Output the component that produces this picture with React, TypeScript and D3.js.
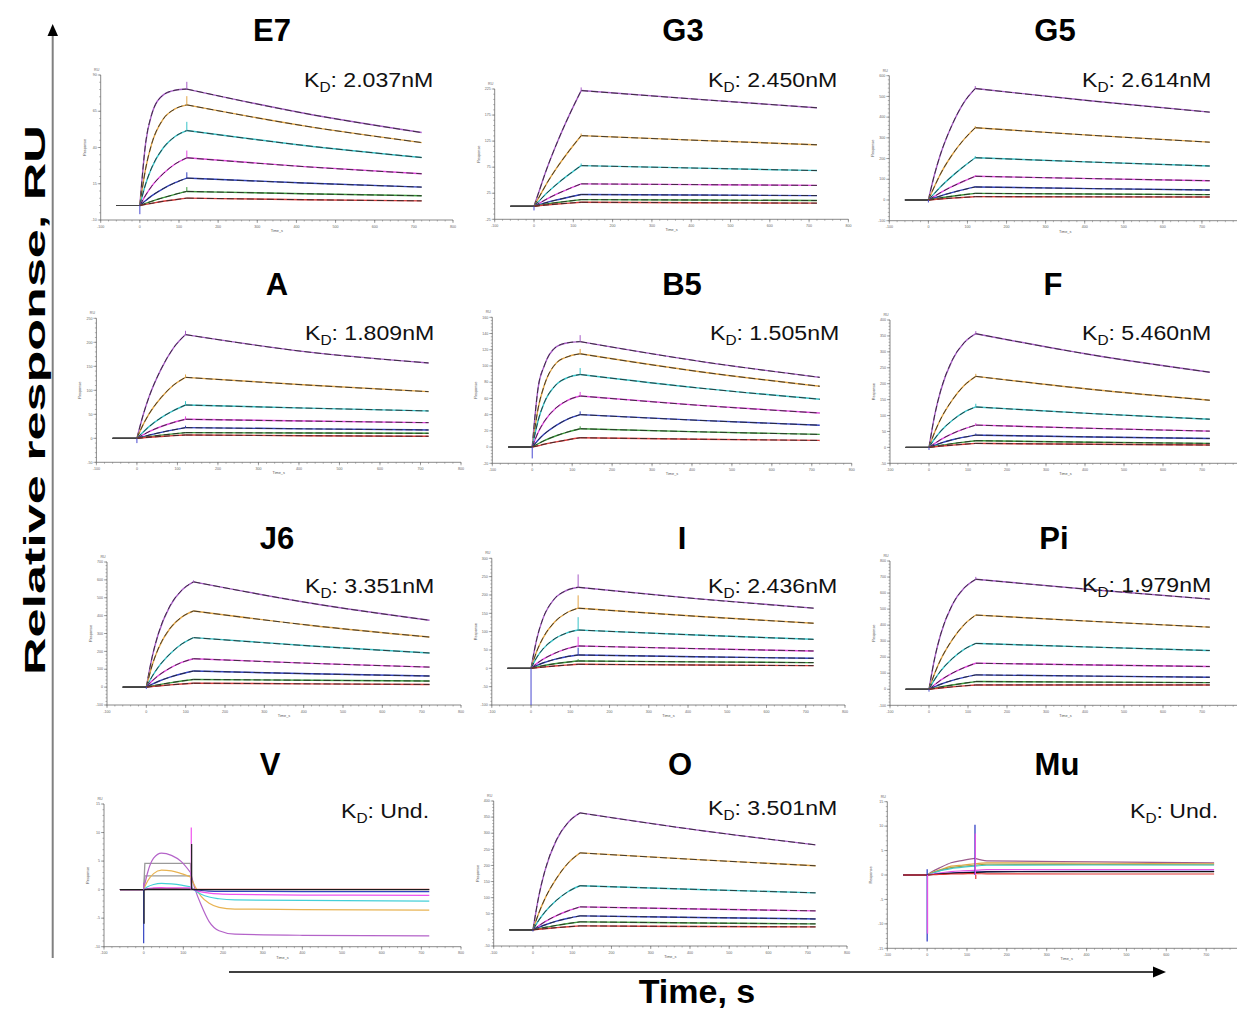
import React from "react";
import * as d3 from "d3";

// ---------- shared data ----------
const TIME = [-60, 0, 15, 30, 60, 90, 120, 420, 720];
const X_TICKS = [-100, 0, 100, 200, 300, 400, 500, 600, 700, 800];
const CURVE_COLORS = ["#a75cc6", "#e2a546", "#37c2c8", "#e247df", "#3140bf", "#3b9b3b", "#d93b3b"];

// ---------- E7 ----------
const E7_CURVES = [
  [0, 0, 43.4, 62.6, 76.3, 79.5, 80.3, 63.6, 50.3],
  [0, 0, 25.7, 42.3, 59.7, 66.6, 69.4, 54.9, 43.4],
  [0, 0, 15.0, 25.9, 39.8, 47.6, 51.7, 41.4, 33.1],
  [0, 0, 7.2, 13.2, 22.0, 28.6, 32.9, 26.8, 21.9],
  [0, 0, 3.4, 6.6, 11.7, 15.7, 18.9, 15.5, 12.7],
  [0, 0, 1.5, 2.9, 5.4, 7.7, 9.7, 8.1, 6.7],
  [0, 0, 0.8, 1.5, 2.9, 4.0, 5.1, 4.0, 3.2],
];
const E7_Y_TICKS = [-10, 15, 40, 65, 90];
const E7_SPIKES = [5, 6, 6, 5, 4, 3, 0];

// ---------- G3 ----------
const G3_CURVES = [
  [0, 0, 33.3, 66.6, 124.3, 175.4, 222, 205, 189],
  [0, 0, 20.3, 40.7, 75.9, 107, 135.5, 126.4, 118],
  [0, 0, 11.7, 23.4, 43.7, 61.6, 78, 73.1, 68.5],
  [0, 0, 6.5, 12.9, 24.1, 34, 43, 41.5, 40],
  [0, 0, 3.4, 6.8, 12.6, 17.8, 22.5, 21.5, 20.5],
  [0, 0, 1.9, 3.8, 7.2, 10.1, 12.8, 11.9, 11],
  [0, 0, 1.2, 2.3, 4.3, 6.1, 7.7, 6.8, 6],
];
const G3_Y_TICKS = [-25, 25, 75, 125, 175, 225];
const G3_SPIKES = [6, 4, 4, 0, 0, 0, 0];

// ---------- G5 ----------
const G5_CURVES = [
  [0, 0, 118, 215, 360, 468, 538, 477.6, 424],
  [0, 0, 62.8, 122, 216, 290, 349, 312, 279],
  [0, 0, 30.6, 61.2, 114, 161, 204, 183, 164],
  [0, 0, 17.2, 34.4, 64.1, 90.5, 114.5, 103.2, 93],
  [0, 0, 9.5, 18.9, 35.3, 49.8, 63, 55, 48],
  [0, 0, 4.8, 9.6, 17.9, 25.3, 32, 28.8, 26],
  [0, 0, 2.4, 4.8, 9, 12.6, 16, 15.2, 14.5],
];
const G5_Y_TICKS = [-100, 0, 100, 200, 300, 400, 500, 600];
const G5_SPIKES = [12, 8, 8, 6, 4, 0, 0];

// ---------- A ----------
const A_CURVES = [
  [0, 0, 47.5, 86.4, 144.7, 187.9, 216, 180, 157],
  [0, 0, 27.9, 50.8, 85.1, 110.5, 127, 111, 97.2],
  [0, 0, 12.5, 24.3, 43, 57.6, 69.4, 62.9, 57],
  [0, 0, 7.1, 13.9, 24.6, 32.9, 39.6, 35.9, 32.6],
  [0, 0, 3.3, 6.7, 12.4, 17.5, 22.2, 19.7, 17.4],
  [0, 0, 1.8, 3.5, 6.6, 9.3, 11.8, 11.1, 10.4],
  [0, 0, 1.0, 2.1, 3.9, 5.5, 6.9, 5.4, 4.2],
];
const A_Y_TICKS = [-50, 0, 50, 100, 150, 200, 250];
const A_SPIKES = [8, 6, 8, 6, 4, 0, 0];

// ---------- B5 ----------
const B5_CURVES = [
  [0, 0, 74, 100, 123.5, 128.7, 130, 105.7, 86],
  [0, 0, 48.3, 75.9, 103.5, 111.6, 115, 92.9, 75],
  [0, 0, 33.1, 54.6, 77, 85.9, 89.5, 72.7, 59],
  [0, 0, 18.3, 31.5, 48.5, 58, 63, 51.4, 42],
  [0, 0, 8.8, 16, 26.8, 34.8, 40, 32.9, 27],
  [0, 0, 4.1, 7.9, 14, 18.8, 22.6, 18.8, 15.6],
  [0, 0, 1.7, 3.5, 6.4, 9.1, 11.5, 9.7, 8.2],
];
const B5_Y_TICKS = [-20, 0, 20, 40, 60, 80, 100, 120, 140, 160];
const B5_SPIKES = [8, 6, 8, 5, 4, 3, 0];

// ---------- F ----------
const F_CURVES = [
  [0, 0, 103.5, 178.5, 274.9, 328.4, 357, 290, 236],
  [0, 0, 49.1, 89.2, 149.4, 194, 223, 181.7, 148],
  [0, 0, 27.9, 50.8, 85.1, 110.5, 127, 106, 88.5],
  [0, 0, 12.6, 24.5, 43.4, 58.1, 70, 59.7, 51],
  [0, 0, 6.9, 13.5, 23.9, 32, 38.5, 32.8, 28],
  [0, 0, 3.2, 6.3, 11.8, 16.6, 21, 16.2, 12.5],
  [0, 0, 1.9, 3.8, 7, 9.9, 12.5, 9.6, 7.3],
];
const F_Y_TICKS = [-50, 0, 50, 100, 150, 200, 250, 300, 350, 400];
const F_SPIKES = [8, 8, 10, 6, 5, 0, 0];

// ---------- J6 ----------
const J6_CURVES = [
  [0, 0, 170.8, 294.5, 453.5, 541.9, 589, 469, 374],
  [0, 0, 123.5, 213, 328, 391.9, 426, 345, 280],
  [0, 0, 60.9, 110.8, 185.6, 241, 277, 230, 191],
  [0, 0, 35, 63.6, 106.5, 138.3, 159, 133, 112],
  [0, 0, 16.2, 31.5, 55.8, 74.7, 90, 74.7, 62],
  [0, 0, 6.5, 12.9, 24.1, 34, 43, 38.2, 34],
  [0, 0, 3.3, 6.6, 12.3, 17.4, 22, 18.2, 15],
];
const J6_Y_TICKS = [-100, 0, 100, 200, 300, 400, 500, 600, 700];
const J6_SPIKES = [8, 0, 0, 0, 0, 0, 0];

// ---------- I ----------
const I_CURVES = [
  [0, 0, 81.8, 134.8, 190, 212.2, 221, 190, 164],
  [0, 0, 47.6, 82, 126.3, 150.9, 164, 142, 123],
  [0, 0, 30.3, 52.3, 80.5, 96.1, 104.5, 90.9, 79],
  [0, 0, 13.4, 24.4, 40.9, 53.1, 61, 53.7, 47.3],
  [0, 0, 8, 14.6, 24.4, 31.7, 36.4, 31.5, 27.3],
  [0, 0, 3.6, 7, 12.4, 16.6, 20, 17.6, 15.5],
  [0, 0, 1.7, 3.3, 6.2, 8.7, 11, 9, 7.3],
];
const I_Y_TICKS = [-100, -50, 0, 50, 100, 150, 200, 250, 300];
const I_SPIKES = [35, 35, 35, 25, 20, 5, 0];

// ---------- Pi ----------
const PI_CURVES = [
  [0, 0, 198.9, 343, 528.2, 631.1, 686, 621, 562.5],
  [0, 0, 101.9, 185.2, 310.2, 402.8, 463, 423.6, 387.5],
  [0, 0, 62.9, 114.4, 191.6, 248.8, 286, 263, 241.7],
  [0, 0, 29.3, 56.9, 100.8, 134.9, 162.5, 151.7, 141.7],
  [0, 0, 16.1, 31.4, 55.6, 74.4, 89.6, 82, 75],
  [0, 0, 7.2, 14.4, 26.9, 37.9, 48, 44.7, 41.7],
  [0, 0, 4.1, 8.1, 15.1, 21.3, 27, 27, 27],
];
const PI_Y_TICKS = [-100, 0, 100, 200, 300, 400, 500, 600, 700, 800];
const PI_SPIKES = [15, 0, 0, 0, 0, 0, 0];

// ---------- O ----------
const O_CURVES = [
  [0, 0, 105.3, 181.5, 279.5, 334, 363, 309.6, 264],
  [0, 0, 52.6, 95.6, 160.1, 207.9, 239, 218, 199],
  [0, 0, 30.1, 54.8, 91.8, 119.2, 137, 125.5, 115],
  [0, 0, 12.9, 25, 44.3, 59.3, 71.4, 64.9, 59],
  [0, 0, 7.8, 15.2, 27, 36.1, 43.5, 38.5, 34],
  [0, 0, 3.8, 7.5, 14, 19.8, 25, 21.6, 18.6],
  [0, 0, 1.9, 3.7, 6.9, 9.8, 12.4, 10.7, 9.3],
];
const O_Y_TICKS = [-50, 0, 50, 100, 150, 200, 250, 300, 350, 400];
const O_SPIKES = [0, 0, 0, 0, 0, 0, 0];

// ---------- V (no binding) ----------
const V_TIME = [-60, 0, 10, 25, 45, 70, 95, 118, 130, 145, 165, 190, 230, 400, 720];
const V_CURVES = [
  [0, 0, 3.0, 5.5, 6.4, 6.0, 4.9, 3.0, 0, -2.7, -5.6, -7.2, -7.8, -8.0, -8.1],
  [0, 0, 1.5, 2.8, 3.4, 3.3, 2.8, 2.2, 0.5, -1.2, -2.4, -3.1, -3.4, -3.5, -3.6],
  [0, 0, 0.5, 0.9, 1.1, 1.0, 0.8, 0.5, -0.2, -0.8, -1.3, -1.6, -1.8, -1.9, -2.0],
  [0, 0, 0.2, 0.3, 0.35, 0.3, 0.3, 0.3, -0.1, -0.4, -0.6, -0.75, -0.85, -0.95, -1.0],
  [0, 0, 0.1, 0.15, 0.15, 0.15, 0.1, 0.1, 0, -0.15, -0.25, -0.3, -0.3, -0.35, -0.35],
  [0, 0, 0.05, 0.1, 0.1, 0.1, 0.1, 0.05, 0.05, 0.05, 0.05, 0.05, 0.05, 0.05, 0.05],
  [0, 0, 0, 0, 0, 0, 0, 0, 0, 0, 0, 0, 0, 0, 0],
];
const V_COLORS = ["#b463c9", "#e8b352", "#45d0d8", "#f052ee", "#3343c2", "#d64444", "#1c1c1c"];
const V_STEADY_LEVELS = [4.6, 2.4];
const V_Y_TICKS = [-10, -5, 0, 5, 10, 15];
const V_SPIKES = [[0, -9.4, 4], [1, -6, 6], [0, 1.2, 0], [120, 10.9, 3], [121, 8, 6]];

// ---------- Mu (no binding) ----------
const MU_TIME = [-60, 0, 15, 30, 60, 90, 120, 150, 420, 720];
const MU_CURVES = [
  [0, 0, 0.8, 1.4, 2.5, 3.0, 3.4, 2.9, 2.7, 2.5],
  [0, 0, 0.6, 1.0, 1.8, 2.05, 2.3, 2.5, 2.4, 2.3],
  [0, 0, 0.5, 0.9, 1.5, 1.8, 2.0, 2.2, 2.15, 2.1],
  [0, 0, 0.4, 0.8, 1.3, 1.6, 1.8, 2.0, 2.05, 2.05],
  [0, 0, 0.2, 0.4, 0.7, 0.85, 0.96, 1.1, 1.1, 1.1],
  [0, 0, 0.1, 0.2, 0.4, 0.5, 0.6, 0.7, 0.75, 0.75],
  [0, 0, 0.1, 0.2, 0.35, 0.45, 0.55, 0.65, 0.7, 0.7],
  [0, 0, 0.05, 0.1, 0.2, 0.25, 0.27, 0.25, 0.2, 0.2],
];
const MU_COLORS = ["#9b5b8c", "#e2a445", "#9ca244", "#43c8c8", "#e452e2", "#2433c2", "#111111", "#e23434"];
const MU_Y_TICKS = [-15, -10, -5, 0, 5, 10, 15];
const MU_SPIKES = [[0, -13.6, 5], [1, -12, 4], [0, 1.2, 5], [120, 10.3, 5], [121, 8.5, 4], [122, -0.8, 7]];

const FONT = "'Liberation Sans', Arial, Helvetica, sans-serif";
const PAGE_W = 1237;

type Frame = { x0: number; x1: number; yb: number; yt: number };

function Axes({ fr, yTicks }: { fr: Frame; yTicks: number[] }) {
  const x = d3.scaleLinear().domain([-100, 800]).range([fr.x0, fr.x1]);
  const y = d3.scaleLinear().domain([yTicks[0], yTicks[yTicks.length - 1]]).range([fr.yb, fr.yt]);
  const step = yTicks[1] - yTicks[0];
  const yMinor = d3.range(yTicks[0], yTicks[yTicks.length - 1] + 1e-9, step / 5);
  const xMinor = d3.range(-100, 800.001, 20);
  const ax = "#6b6b6b";
  return (
    <g>
      <line x1={fr.x0} x2={fr.x0} y1={fr.yb} y2={fr.yt} stroke={ax} strokeWidth={0.8} />
      <line x1={fr.x0} x2={fr.x1} y1={fr.yb} y2={fr.yb} stroke={ax} strokeWidth={0.8} />
      {yMinor.map((v, i) => (
        <line key={"ym" + i} x1={fr.x0 - 1.5} x2={fr.x0} y1={y(v)} y2={y(v)} stroke={ax} strokeWidth={0.5} />
      ))}
      {yTicks.map((v, i) => (
        <g key={"yt" + i}>
          <line x1={fr.x0 - 3} x2={fr.x0} y1={y(v)} y2={y(v)} stroke={ax} strokeWidth={0.6} />
          <text x={fr.x0 - 4} y={y(v) + 1.2} fontSize={3.6} textAnchor="end" fill="#666" fontFamily={FONT}>{v}</text>
        </g>
      ))}
      {xMinor.map((v, i) => (
        <line key={"xm" + i} x1={x(v)} x2={x(v)} y1={fr.yb} y2={fr.yb + 1.5} stroke={ax} strokeWidth={0.5} />
      ))}
      {X_TICKS.map((v, i) => (
        <g key={"xt" + i}>
          <line x1={x(v)} x2={x(v)} y1={fr.yb} y2={fr.yb + 3} stroke={ax} strokeWidth={0.6} />
          {x(v) < PAGE_W - 6 && (
            <text x={x(v)} y={fr.yb + 7.5} fontSize={3.6} textAnchor="middle" fill="#666" fontFamily={FONT}>{v}</text>
          )}
        </g>
      ))}
      <text x={fr.x0 - 4} y={fr.yt - 4} fontSize={3.6} textAnchor="middle" fill="#666" fontFamily={FONT}>RU</text>
      <text x={(fr.x0 + fr.x1) / 2} y={fr.yb + 12} fontSize={3.8} textAnchor="middle" fill="#555" fontFamily={FONT}>Time_s</text>
      <text transform={`translate(${fr.x0 - 15},${(fr.yb + fr.yt) / 2}) rotate(-90)`} fontSize={3.8} textAnchor="middle" fill="#555" fontFamily={FONT}>Response</text>
    </g>
  );
}

function KD({ x, y, value }: { x: number; y: number; value: string }) {
  return (
    <text transform={`translate(${x},${y}) scale(1.1,1)`} fontSize={21} fontFamily={FONT} fill="#111">
      K<tspan fontSize={14} dy={5}>D</tspan><tspan dy={-5}>: {value}</tspan>
    </text>
  );
}

function Title({ x, y, label }: { x: number; y: number; label: string }) {
  return (
    <text x={x} y={y} textAnchor="middle" fontSize={31} fontWeight="bold" fontFamily={FONT} fill="#000">{label}</text>
  );
}

type KinPanel = {
  name: string; kd: string; curves: number[][]; yTicks: number[]; spikes: number[]; dip: number;
  fr: Frame; tx: number; ty: number; kx: number; ky: number;
};

function KineticPanel({ p }: { p: KinPanel }) {
  const x = d3.scaleLinear().domain([-100, 800]).range([p.fr.x0, p.fr.x1]);
  const y = d3.scaleLinear().domain([p.yTicks[0], p.yTicks[p.yTicks.length - 1]]).range([p.fr.yb, p.fr.yt]);
  const mono = d3.line<number[]>().x((d) => x(d[0])).y((d) => y(d[1])).curve(d3.curveMonotoneX);
  const lin = d3.line<number[]>().x((d) => x(d[0])).y((d) => y(d[1]));
  return (
    <g>
      <Axes fr={p.fr} yTicks={p.yTicks} />
      {p.curves.map((c, ci) => {
        const pts = TIME.map((t, i) => [t, c[i]]);
        const base = pts.slice(0, 2);
        const assoc = pts.slice(1, 7);
        const diss = pts.slice(6);
        const col = CURVE_COLORS[ci];
        return (
          <g key={ci} fill="none">
            <path d={lin(base) || ""} stroke="#444" strokeWidth={1} />
            <path d={mono(assoc) || ""} stroke={col} strokeWidth={1.4} />
            <path d={mono(diss) || ""} stroke={col} strokeWidth={1.4} />
            <path d={mono(assoc) || ""} stroke="#262626" strokeWidth={0.85} strokeDasharray="6,3" />
            <path d={mono(diss) || ""} stroke="#262626" strokeWidth={0.85} strokeDasharray="7,3" />
            {p.spikes[ci] > 0 && (
              <line x1={x(120)} x2={x(120)} y1={y(c[6])} y2={y(c[6] + p.spikes[ci])} stroke={col} strokeWidth={1} />
            )}
          </g>
        );
      })}
      <line x1={x(0)} x2={x(0)} y1={y(0)} y2={y(p.dip)} stroke="#4a4ad0" strokeWidth={1} />
      <Title x={p.tx} y={p.ty} label={p.name} />
      <KD x={p.kx} y={p.ky} value={p.kd} />
    </g>
  );
}

type FreePanel = {
  name: string; time: number[]; curves: number[][]; colors: string[]; yTicks: number[];
  spikes: number[][]; fr: Frame; tx: number; ty: number; kx: number; ky: number; split: number;
};

function FreeFormPanel({ p, steady }: { p: FreePanel; steady?: number[] }) {
  const x = d3.scaleLinear().domain([-100, 800]).range([p.fr.x0, p.fr.x1]);
  const y = d3.scaleLinear().domain([p.yTicks[0], p.yTicks[p.yTicks.length - 1]]).range([p.fr.yb, p.fr.yt]);
  const mono = d3.line<number[]>().x((d) => x(d[0])).y((d) => y(d[1])).curve(d3.curveMonotoneX);
  const lin = d3.line<number[]>().x((d) => x(d[0])).y((d) => y(d[1]));
  return (
    <g>
      <Axes fr={p.fr} yTicks={p.yTicks} />
      {steady && steady.map((lv, i) => (
        <path key={"st" + i} fill="none" stroke="#9a9a9a" strokeWidth={1.3}
          d={lin([[0, 0], [3, lv], [118, lv], [121, 0]]) || ""} />
      ))}
      {p.curves.map((c, ci) => {
        const pts = p.time.map((t, i) => [t, c[i]]);
        return (
          <g key={ci} fill="none">
            <path d={lin(pts.slice(0, 2)) || ""} stroke={p.colors[ci]} strokeWidth={1.2} />
            <path d={mono(pts.slice(1, p.split + 1)) || ""} stroke={p.colors[ci]} strokeWidth={1.2} />
            <path d={mono(pts.slice(p.split)) || ""} stroke={p.colors[ci]} strokeWidth={1.2} />
          </g>
        );
      })}
      {p.spikes.map((s, i) => (
        <line key={"sp" + i} x1={x(s[0])} x2={x(s[0])} y1={y(0)} y2={y(s[1])} stroke={p.colors[s[2]]} strokeWidth={1.2} />
      ))}
      <Title x={p.tx} y={p.ty} label={p.name} />
      <KD x={p.kx} y={p.ky} value="Und." />
    </g>
  );
}

const KIN_PANELS: KinPanel[] = [
  { name: "E7", kd: "2.037nM", curves: E7_CURVES, yTicks: E7_Y_TICKS, spikes: E7_SPIKES, dip: -6,
    fr: { x0: 100.7, x1: 453, yb: 220, yt: 75 }, tx: 272, ty: 41, kx: 304, ky: 87 },
  { name: "G3", kd: "2.450nM", curves: G3_CURVES, yTicks: G3_Y_TICKS, spikes: G3_SPIKES, dip: -8,
    fr: { x0: 494.7, x1: 848.4, yb: 219.3, yt: 89 }, tx: 683, ty: 41, kx: 708, ky: 87 },
  { name: "G5", kd: "2.614nM", curves: G5_CURVES, yTicks: G5_Y_TICKS, spikes: G5_SPIKES, dip: -12,
    fr: { x0: 889.3, x1: 1241, yb: 220.7, yt: 75.7 }, tx: 1055, ty: 41, kx: 1082, ky: 87 },
  { name: "A", kd: "1.809nM", curves: A_CURVES, yTicks: A_Y_TICKS, spikes: A_SPIKES, dip: -10,
    fr: { x0: 96.4, x1: 461, yb: 462.3, yt: 318.3 }, tx: 277, ty: 295, kx: 305, ky: 340 },
  { name: "B5", kd: "1.505nM", curves: B5_CURVES, yTicks: B5_Y_TICKS, spikes: B5_SPIKES, dip: -14,
    fr: { x0: 492.3, x1: 851.7, yb: 463.3, yt: 317.3 }, tx: 682, ty: 295, kx: 710, ky: 340 },
  { name: "F", kd: "5.460nM", curves: F_CURVES, yTicks: F_Y_TICKS, spikes: F_SPIKES, dip: -8,
    fr: { x0: 890, x1: 1241, yb: 463.3, yt: 320 }, tx: 1053, ty: 295, kx: 1082, ky: 340 },
  { name: "J6", kd: "3.351nM", curves: J6_CURVES, yTicks: J6_Y_TICKS, spikes: J6_SPIKES, dip: -10,
    fr: { x0: 107, x1: 461, yb: 705, yt: 562 }, tx: 277, ty: 549, kx: 305, ky: 593 },
  { name: "I", kd: "2.436nM", curves: I_CURVES, yTicks: I_Y_TICKS, spikes: I_SPIKES, dip: -100,
    fr: { x0: 491.8, x1: 845, yb: 705, yt: 558.3 }, tx: 682, ty: 549, kx: 708, ky: 593 },
  { name: "Pi", kd: "1.979nM", curves: PI_CURVES, yTicks: PI_Y_TICKS, spikes: PI_SPIKES, dip: -15,
    fr: { x0: 890, x1: 1241, yb: 705.3, yt: 561 }, tx: 1054, ty: 549, kx: 1082, ky: 592 },
  { name: "O", kd: "3.501nM", curves: O_CURVES, yTicks: O_Y_TICKS, spikes: O_SPIKES, dip: -5,
    fr: { x0: 493.7, x1: 847, yb: 946, yt: 801 }, tx: 680, ty: 775, kx: 708, ky: 815 },
];

const V_PANEL: FreePanel = {
  name: "V", time: V_TIME, curves: V_CURVES, colors: V_COLORS, yTicks: V_Y_TICKS, spikes: V_SPIKES,
  fr: { x0: 104, x1: 461, yb: 946.7, yt: 804 }, tx: 270, ty: 775, kx: 341, ky: 818, split: 7,
};
const MU_PANEL: FreePanel = {
  name: "Mu", time: MU_TIME, curves: MU_CURVES, colors: MU_COLORS, yTicks: MU_Y_TICKS, spikes: MU_SPIKES,
  fr: { x0: 887.3, x1: 1246, yb: 948.3, yt: 801.7 }, tx: 1057, ty: 775, kx: 1130, ky: 818, split: 6,
};

export default function App() {
  return (
    <svg width={1237} height={1009} viewBox="0 0 1237 1009"
      style={{ position: "absolute", left: 0, top: 0, background: "#fff" }}>
      <rect x={0} y={0} width={1237} height={1009} fill="#fff" />
      {KIN_PANELS.map((p) => <KineticPanel key={p.name} p={p} />)}
      <FreeFormPanel p={V_PANEL} steady={V_STEADY_LEVELS} />
      <FreeFormPanel p={MU_PANEL} />
      {/* vertical arrow */}
      <line x1={52.7} x2={52.7} y1={958} y2={34} stroke="#808080" strokeWidth={2} />
      <polygon points="47.5,36 58,36 52.7,24" fill="#000" />
      {/* horizontal arrow */}
      <line x1={229} x2={1155} y1={972} y2={972} stroke="#404040" strokeWidth={2} />
      <polygon points="1153,966.5 1153,977.5 1166,972" fill="#000" />
      <text transform="translate(45,400) rotate(-90)" textAnchor="middle" fontSize={30} fontWeight="bold"
        fontFamily={FONT} textLength={550} lengthAdjust="spacingAndGlyphs" fill="#000">Relative response, RU</text>
      <text x={697} y={1003} textAnchor="middle" fontSize={34} fontWeight="bold" fontFamily={FONT} fill="#000">Time, s</text>
    </svg>
  );
}
